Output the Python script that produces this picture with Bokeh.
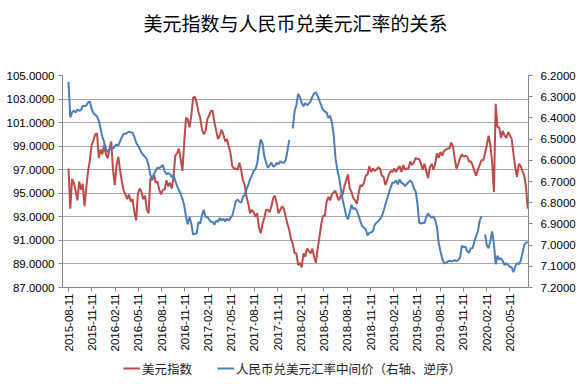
import numpy as np
import pandas as pd
from bokeh.plotting import figure
from bokeh.models import (Range1d, LinearAxis, FixedTicker, NumeralTickFormatter,
                          DatetimeTickFormatter, Legend, LegendItem, ColumnDataSource, Title)
from bokeh.core.properties import value
from bokeh.embed import file_html
from bokeh.resources import INLINE

nan = float("nan")

title_text = "美元指数与人民币兑美元汇率的关系"
series_names = ["美元指数", "人民币兑美元汇率中间价（右轴、逆序）"]
start_date = "2015-08-11"
end_date = "2020-07-24"

tick_labels = ["2015-08-11", "2015-11-11", "2016-02-11", "2016-05-11", "2016-08-11",
               "2016-11-11", "2017-02-11", "2017-05-11", "2017-08-11", "2017-11-11",
               "2018-02-11", "2018-05-11", "2018-08-11", "2018-11-11", "2019-02-11",
               "2019-05-11", "2019-08-11", "2019-11-11", "2020-02-11", "2020-05-11"]
left_ticks = [87, 89, 91, 93, 95, 97, 99, 101, 103, 105]
right_ticks = [6.2, 6.3, 6.4, 6.5, 6.6, 6.7, 6.8, 6.9, 7.0, 7.1, 7.2]

# weekly readings (every 7 days from 2015-08-11)
usd_index = [
    97.1, 93.7, 96.2, 95.9, 95.2, 94.4, 96.0, 95.3, 95.8, 93.9,
    95.5, 96.9, 97.8, 99.1, 99.5, 100.0, 100.1, 98.0, 98.7, 98.3,
    99.1, 98.3, 98.0, 98.7, 99.4, 97.0, 95.7, 97.4, 98.1, 96.9,
    96.0, 95.2, 94.9, 94.5, 94.9, 94.3, 94.5, 93.4, 92.7, 95.0,
    95.4, 95.1, 94.5, 94.8, 93.6, 93.3, 96.3, 96.1, 96.6, 95.9,
    96.0, 95.3, 94.9, 95.3, 95.3, 96.1, 95.6, 95.9, 95.4, 96.4,
    98.2, 98.4, 98.8, 97.9, 96.9, 99.3, 101.4, 101.3, 100.6, 101.6,
    103.1, 103.2, 102.7, 101.9, 101.4, 100.4, 100.0, 100.3, 101.3, 101.6,
    102.0, 102.0, 101.0, 100.3, 99.6, 99.9, 100.4, 100.0, 99.4, 99.6,
    99.0, 98.4, 97.3, 97.1, 97.1, 97.0, 97.6, 97.0, 96.1, 95.7,
    94.7, 94.1, 93.3, 93.6, 93.4, 93.0, 93.3, 92.1, 91.6, 92.4,
    92.9, 93.6, 93.6, 93.4, 93.9, 94.6, 94.8, 94.1, 93.3, 93.6,
    93.9, 93.7, 93.0, 92.4, 91.9, 91.1, 90.7, 89.9, 89.9, 88.9,
    89.1, 88.7, 89.9, 89.6, 90.3, 90.1, 89.9, 90.3, 89.6, 89.1,
    90.3, 91.3, 92.4, 93.1, 93.1, 94.3, 94.7, 94.4, 94.9, 95.1,
    95.2, 94.7, 94.4, 94.8, 94.9, 95.6, 96.1, 96.6, 95.4, 95.1,
    94.6, 94.4, 94.1, 95.0, 95.7, 95.6, 95.9, 96.5, 96.6, 97.3,
    96.8, 97.1, 96.9, 97.0, 97.2, 97.1, 96.5, 96.4, 95.7, 96.1,
    96.6, 96.9, 96.8, 97.1, 96.8, 97.1, 97.3, 96.8, 97.4, 97.0,
    97.1, 97.1, 97.7, 97.4, 97.6, 98.0, 97.9, 97.9, 97.5, 97.0,
    97.5, 96.9, 96.3, 97.2, 97.5, 97.0, 97.5, 98.4, 98.0, 98.5,
    98.2, 98.6, 98.7, 98.8, 98.8, 99.3, 99.0, 97.9, 97.1, 97.5,
    98.0, 98.3, 98.1, 98.2, 98.1, 97.7, 97.7, 97.4, 96.9, 96.5,
    97.0, 97.4, 97.8, 97.8, 98.4, 99.1, 99.9, 99.1, 97.6, 95.1,
    102.6, 100.6, 100.6, 99.7, 100.3, 99.9, 99.7, 100.2, 99.9, 99.6,
    98.3, 97.2, 96.4, 97.5, 97.3, 96.9, 96.5, 95.6, 93.7,
]

cny_mid = [
    6.230, 6.398, 6.374, 6.366, 6.374, 6.361, 6.366, 6.363, 6.342, 6.345,
    6.342, 6.327, 6.322, 6.358, 6.378, 6.385, 6.393, 6.412, 6.450, 6.489,
    6.512, 6.546, 6.562, 6.548, 6.540, 6.545, 6.533, 6.526, 6.530, 6.509,
    6.490, 6.475, 6.475, 6.470, 6.465, 6.469, 6.470, 6.490, 6.516, 6.530,
    6.545, 6.564, 6.575, 6.583, 6.595, 6.625, 6.670, 6.688, 6.665, 6.648,
    6.635, 6.637, 6.630, 6.622, 6.650, 6.665, 6.661, 6.665, 6.680, 6.670,
    6.698, 6.722, 6.740, 6.758, 6.782, 6.812, 6.866, 6.902, 6.868, 6.900,
    6.950, 6.946, 6.945, 6.890, 6.900, 6.858, 6.834, 6.868, 6.866, 6.879,
    6.890, 6.890, 6.904, 6.885, 6.890, 6.872, 6.885, 6.875, 6.888, 6.875,
    6.885, 6.872, 6.862, 6.830, 6.793, 6.785, 6.795, 6.800, 6.774, 6.760,
    6.736, 6.716, 6.690, 6.673, 6.650, 6.643, 6.615, 6.550, 6.502, 6.520,
    6.580, 6.610, 6.635, 6.625, 6.611, 6.630, 6.625, 6.612, 6.618, 6.605,
    6.611, 6.612, 6.600, 6.556, 6.505, nan, 6.450, 6.370, 6.340, 6.287,
    6.300, 6.330, 6.345, 6.330, 6.340, 6.332, 6.322, 6.300, 6.285, 6.279,
    6.297, 6.320, 6.342, 6.362, 6.370, 6.374, 6.400, 6.390, 6.422, 6.480,
    6.590, 6.645, 6.680, 6.735, 6.785, 6.822, 6.862, 6.878, 6.845, 6.810,
    6.830, 6.825, 6.838, 6.862, 6.888, 6.910, 6.918, 6.925, 6.955, 6.942,
    6.940, 6.935, 6.905, 6.895, 6.887, 6.878, 6.865, 6.840, 6.810, 6.782,
    6.754, 6.728, 6.705, 6.706, 6.695, 6.714, 6.690, 6.706, 6.710, 6.722,
    6.712, 6.703, 6.695, 6.705, 6.732, 6.746, 6.800, 6.894, 6.899, 6.895,
    6.896, 6.868, 6.850, 6.863, 6.870, 6.865, 6.882, 6.915, 6.991, 7.030,
    7.065, 7.086, 7.084, 7.078, 7.074, 7.076, 7.076, 7.070, 7.076, 7.070,
    7.058, 7.003, 7.010, 7.007, 7.030, 7.035, 7.015, 7.015, 6.985, 6.958,
    6.935, 6.885, 6.865, nan, 6.950, 7.000, 7.015, 6.980, 6.935, 6.995,
    7.090, 7.050, 7.068, 7.062, 7.075, 7.094, 7.085, 7.094, 7.102, 7.105,
    7.128, 7.100, 7.085, 7.090, 7.075, 7.040, 7.000, 6.990, 6.985,
]

dates = pd.date_range(start_date, periods=len(usd_index), freq="7D")
src = ColumnDataSource(dict(date=dates, usd=usd_index, cny=cny_mid))

RED = "#BE4B48"
BLUE = "#4A7EBB"
AXIS_C = "#868686"
FONT = "Liberation Sans"
CJK = "Noto Sans CJK SC"

# layout: the data area is 212 px tall; the frame extends 91 px further down
# so that the x labels and the legend live inside the (unclipped) frame area
PLOT_H = 212
EXTRA_H = 91
PLOT_W = 460
PAD_W = 6          # room on the left so the first date label is not clipped
lo, hi = left_ticks[0], left_ticks[-1]
left_start = lo - (hi - lo) * EXTRA_H / PLOT_H
r_lo, r_hi = right_ticks[0], right_ticks[-1]
right_start = r_hi + (r_hi - r_lo) * EXTRA_H / PLOT_H

t0, t1 = pd.Timestamp(start_date), pd.Timestamp(end_date)
x_start = t0 - (t1 - t0) * PAD_W / PLOT_W

p = figure(frame_width=PLOT_W + PAD_W, frame_height=PLOT_H + EXTRA_H, x_axis_type="datetime",
           x_range=Range1d(start=x_start, end=t1),
           y_range=Range1d(start=left_start, end=hi),
           output_backend="svg", toolbar_location=None,
           min_border_left=62, min_border_right=59, min_border_top=75, min_border_bottom=6)
p.outline_line_color = None
p.background_fill_color = "white"
p.border_fill_color = "white"

# invisible spacer between the frame and the title (stacked nearest the frame)
spacer = Title(text=" ", text_font_size="1px", standoff=32)
p.add_layout(spacer, "above")

p.title.text = title_text
p.title.align = "center"
p.title.text_font = CJK
p.title.text_font_size = "19px"
p.title.text_font_style = "normal"
p.title.text_color = "black"
p.title.standoff = 10

p.extra_y_ranges = {"cny": Range1d(start=right_start, end=r_lo)}
right_axis = LinearAxis(y_range_name="cny")
p.add_layout(right_axis, "right")

left_axis = p.left[0]
bottom_axis = p.below[0]

for ax in (left_axis, right_axis, bottom_axis):
    ax.axis_line_color = AXIS_C
    ax.major_tick_line_color = AXIS_C
    ax.major_tick_in = 0
    ax.major_tick_out = 4
    ax.minor_tick_line_color = None
    ax.major_label_text_font = FONT
    ax.major_label_text_font_size = "11.5px"
    ax.major_label_text_color = "black"

left_axis.ticker = FixedTicker(ticks=left_ticks)
left_axis.formatter = NumeralTickFormatter(format="0.0000")
left_axis.major_label_standoff = 4
left_axis.bounds = (lo, hi)
right_axis.ticker = FixedTicker(ticks=right_ticks)
right_axis.formatter = NumeralTickFormatter(format="0.0000")
right_axis.major_label_standoff = 8
right_axis.bounds = (r_lo, r_hi)

tick_ms = [pd.Timestamp(d).value / 1e6 for d in tick_labels]
bottom_axis.ticker = FixedTicker(ticks=tick_ms)
fmt = "%Y-%m-%d"
bottom_axis.formatter = DatetimeTickFormatter(
    microseconds=fmt, milliseconds=fmt, seconds=fmt, minsec=fmt, minutes=fmt,
    hourmin=fmt, hours=fmt, days=fmt, months=fmt, years=fmt, context=None)
bottom_axis.major_label_orientation = np.pi / 2
bottom_axis.major_label_standoff = 2
bottom_axis.fixed_location = lo

p.xgrid.grid_line_color = None
p.ygrid.ticker = FixedTicker(ticks=left_ticks)
p.ygrid.grid_line_color = "#a6a6a6"
p.ygrid.grid_line_width = 1

r1 = p.line("date", "usd", source=src, line_color=RED, line_width=2)
r2 = p.line("date", "cny", source=src, line_color=BLUE, line_width=2, y_range_name="cny")

legend = Legend(items=[LegendItem(label=value(series_names[0]), renderers=[r1]),
                       LegendItem(label=value(series_names[1]), renderers=[r2])],
                location=(55 + PAD_W, 0), orientation="horizontal",
                border_line_color=None, background_fill_alpha=0,
                padding=0, margin=0, spacing=25, glyph_width=17, label_standoff=2,
                label_text_font=CJK, label_text_font_size="12.5px", label_text_color="#222222")
p.add_layout(legend)

open("out.html", "w").write(file_html(p, INLINE))
